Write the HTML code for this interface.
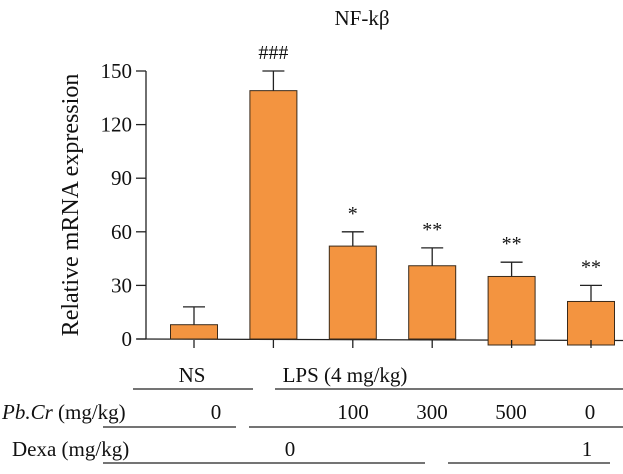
<!DOCTYPE html>
<html><head><meta charset="utf-8"><style>
body{margin:0;background:#fff}
svg text{font-family:"Liberation Serif",serif;fill:#111}
</style></head><body>
<svg width="623" height="469" viewBox="0 0 623 469">
<text x="362" y="25" font-size="21" text-anchor="middle">NF-kβ</text>
<text transform="translate(78,205) rotate(-90)" font-size="24" text-anchor="middle">Relative mRNA expression</text>
<g id="axis"></g>
<g id="bars"></g>
<g font-size="21">
<text x="192" y="382" text-anchor="middle">NS</text>
<text x="345" y="382" text-anchor="middle">LPS (4 mg/kg)</text>
<line x1="133" y1="389" x2="253" y2="389" stroke="#222" stroke-width="1.2"/>
<line x1="275" y1="389" x2="623" y2="389" stroke="#222" stroke-width="1.2"/>
<text x="2" y="419"><tspan font-style="italic">Pb.Cr</tspan> (mg/kg)</text>
<text x="216" y="419" text-anchor="middle">0</text>
<text x="353" y="419" text-anchor="middle">100</text>
<text x="432" y="419" text-anchor="middle">300</text>
<text x="511" y="419" text-anchor="middle">500</text>
<text x="590" y="419" text-anchor="middle">0</text>
<line x1="103" y1="427" x2="236" y2="427" stroke="#222" stroke-width="1.2"/>
<line x1="249" y1="427" x2="623" y2="427" stroke="#222" stroke-width="1.2"/>
<text x="12" y="456">Dexa (mg/kg)</text>
<text x="290" y="456" text-anchor="middle">0</text>
<text x="587" y="456" text-anchor="middle">1</text>
<line x1="103" y1="463" x2="425" y2="463" stroke="#222" stroke-width="1.2"/>
<line x1="448" y1="463" x2="610" y2="463" stroke="#222" stroke-width="1.2"/>
</g>
</svg>
<script>
const categories=["NS","LPS","Pb100","Pb300","Pb500","Dexa"];
const means=[8,139,52,41,35,21];
const errors=[10,11,8,10,8,9];
const marks=["","###","*","**","**","**"];
const ticks=[0,30,60,90,120,150];
const NS="http://www.w3.org/2000/svg";
const y0=339,k=268/150,x0=194,dx=79.4,bw=47;
const Y=v=>y0-v*k, X=i=>x0+i*dx;
function mk(t,a,p){const e=document.createElementNS(NS,t);for(const n in a)e.setAttribute(n,a[n]);p.appendChild(e);return e;}
const ax=document.getElementById('axis'),bg=document.getElementById('bars');
mk('line',{x1:146,y1:Y(150),x2:146,y2:y0,stroke:'#222','stroke-width':1.3},ax);
mk('line',{x1:137,y1:y0,x2:623,y2:y0+1.5,stroke:'#222','stroke-width':1.3},ax);
ticks.forEach(t=>{
 const l=mk('line',{x1:136,y1:Y(t),x2:146,y2:Y(t),stroke:'#222','stroke-width':1.3},ax);
 
 
 const tx=mk('text',{x:132,y:Y(t)+7,'font-size':21,'text-anchor':'end'},ax);tx.textContent=t;
 
 
});
categories.forEach((c,i)=>{
 const cx=X(i),top=Y(means[i]);
 const extra=i>=4?6:0;
 const r=mk('rect',{x:cx-bw/2,y:top,width:bw,height:y0-top+extra,fill:'#f39440',stroke:'#3a2a1a','stroke-width':1},bg);
 
 
 const et=Y(means[i]+errors[i]);
 mk('line',{x1:cx,y1:top,x2:cx,y2:et,stroke:'#222','stroke-width':1.3},bg);
 const cap=mk('line',{x1:cx-11,y1:et,x2:cx+11,y2:et,stroke:'#222','stroke-width':1.3},bg);
 
 
 mk('line',{x1:cx,y1:y0+1,x2:cx,y2:y0+9,stroke:'#222','stroke-width':1.3},bg);
 if(marks[i]){const m=mk('text',{x:cx,y:et-12,'font-size':20,'text-anchor':'middle'},bg);m.textContent=marks[i];
 
 }
});
</script>
</body></html>
